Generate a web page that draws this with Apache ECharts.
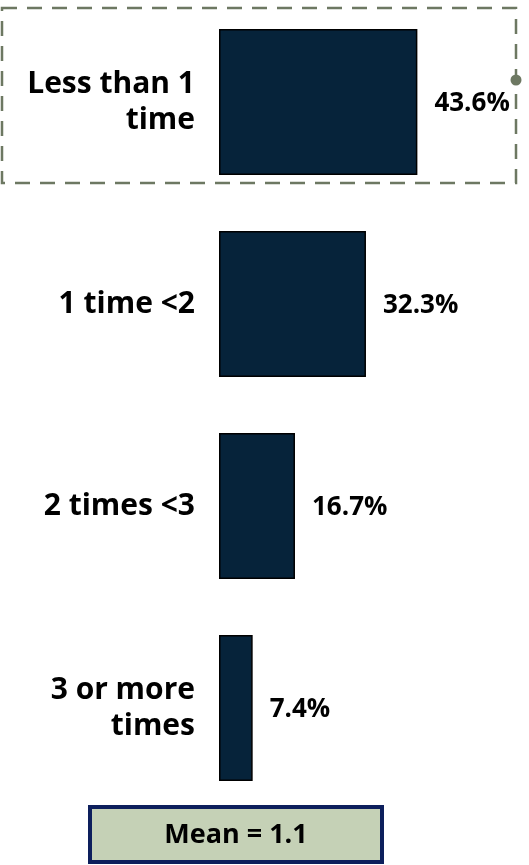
<!DOCTYPE html>
<html>
<head>
<meta charset="utf-8">
<script src="https://cdn.jsdelivr.net/npm/echarts@6/dist/echarts.min.js"></script>
<style>
html,body{margin:0;padding:0;background:#fff;}
#chart{width:529px;height:865px;}
</style>
</head>
<body>
<div id="chart"></div>
<script>
const categories = ["Less than 1\ntime", "1 time <2", "2 times <3", "3 or more\ntimes"];
const values = [43.6, 32.3, 16.7, 7.4];
const meanText = "Mean = 1.1";

const FONT = "Open Sans";
const K = 4.55; // px per percentage point
const XMAX = 68;
const chart = echarts.init(document.getElementById('chart'));
chart.setOption({
  animation: false,
  backgroundColor: '#ffffff',
  grid: { left: 219, top: 1, width: XMAX * K, height: 808, containLabel: false, outerBoundsMode: 'none' },
  xAxis: { type: 'value', min: 0, max: XMAX, show: false },
  yAxis: {
    type: 'category', inverse: true, data: categories,
    axisLine: { show: false }, axisTick: { show: false }, splitLine: { show: false },
    axisLabel: { color: '#000', fontFamily: FONT, fontWeight: 'bold', fontSize: 30, lineHeight: 36, margin: 24, align: 'right' }
  },
  series: [{
    type: 'bar', data: values, barWidth: 146,
    itemStyle: { color: '#06233a', borderColor: '#000', borderWidth: 1.5 },
    label: { show: true, position: 'right', distance: 17, offset: [0, 2], color: '#000', fontFamily: FONT, fontWeight: 'bold', fontSize: 26,
      formatter: p => p.value.toFixed(1) + '%' }
  }],
  graphic: [
    { type: 'rect', shape: { x: 2, y: 8, width: 514, height: 175 },
      style: { fill: 'none', stroke: '#6d7862', lineWidth: 2.5, lineDash: [15, 10] } },
    { type: 'circle', shape: { cx: 516, cy: 80, r: 5.5 }, style: { fill: '#6d7862' } },
    { type: 'rect', shape: { x: 90, y: 807, width: 292, height: 55 },
      style: { fill: '#c5d1b6', stroke: '#0d1f5c', lineWidth: 4 } },
    { type: 'text', x: 236, y: 835,
      style: { text: meanText, fill: '#000', font: 'bold 27px "Open Sans"', align: 'center', verticalAlign: 'middle' } }
  ]
});
</script>
</body>
</html>
